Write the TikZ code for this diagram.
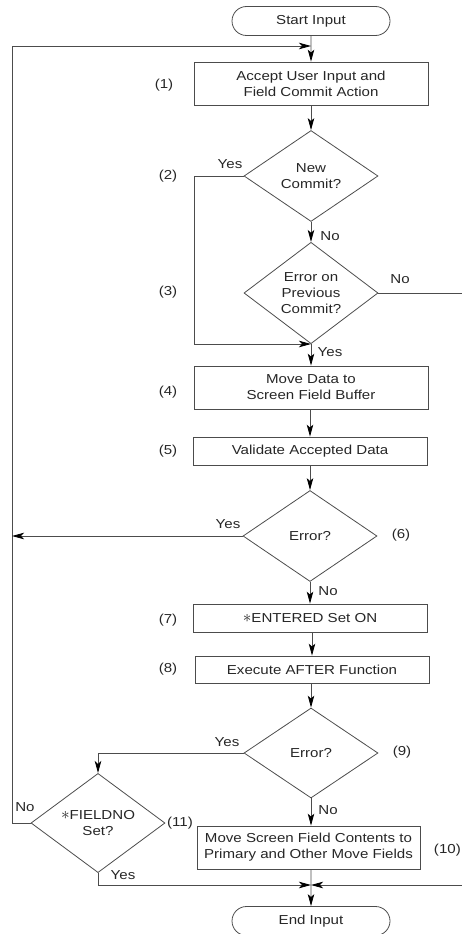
\documentclass[tikz,border=0pt]{standalone}
\usepackage{fontspec}
\setmainfont{Liberation Sans}[FakeStretch=1.16]
\usetikzlibrary{shapes.geometric,shapes.misc,arrows.meta}
\newcommand{\bigast}{{\fontsize{19}{16}\selectfont$\ast$}}
\begin{document}
\begin{tikzpicture}[x=1pt,y=-1pt,
  every node/.style={font=\fontsize{13}{16}\selectfont, text=black!85},
  ln/.style={draw=black!70, line width=0.8pt},
  arr/.style={ln, -{Stealth[length=12pt,width=6.5pt,inset=3pt,color=black]}},
  proc/.style={ln, rectangle, minimum width=234pt, minimum height=43pt, inner sep=0pt, align=center},
  dec/.style={ln, diamond, minimum width=134pt, minimum height=90pt, inner sep=0pt, align=center},
  term/.style={ln, rounded rectangle, minimum width=158pt, minimum height=29pt, inner sep=0pt},
  lbl/.style={inner sep=0pt}]
\useasboundingbox (0,0) rectangle (462,934);
% nodes
\node[term] (start) at (311,21) {Start Input};
\node[proc] (b1) at (311,83.5) {Accept User Input and\\Field Commit Action};
\node[dec, minimum height=91pt] (d2) at (311,176) {New\\Commit?};
\node[dec] (d3) at (311,293) {Error on\\Previous\\Commit?};
\node[proc] (b4) at (311,387.5) {Move Data to\\Screen Field Buffer};
\node[proc, minimum height=28pt] (b5) at (310,451) {Validate Accepted Data};
\node[dec, minimum height=91pt] (d6) at (310,536) {Error?};
\node[proc, minimum height=28pt] (b7) at (310,618) {\bigast ENTERED Set ON};
\node[proc, minimum height=27pt] (b8) at (312,669.5) {Execute AFTER Function};
\node[dec] (d9) at (311,753) {Error?};
\node[dec] (d11) at (98,823) {\bigast FIELDNO\\Set?};
\node[proc, minimum width=223pt] (b10) at (308.5,847.5) {Move Screen Field Contents to\\Primary and Other Move Fields};
\node[term] (end) at (311,921) {End Input};
% junction coordinates
\coordinate (j1) at (311,46);
\coordinate (j2) at (311,344);
\coordinate (j3) at (311,885);
\coordinate (lt) at (12,46);
\coordinate (ll) at (12,823);
\coordinate (l6) at (12,536);
\coordinate (y2) at (194,176);
\coordinate (y2b) at (194,344);
\coordinate (r3) at (462,293);
\coordinate (y9) at (98,753);
\coordinate (y11) at (98,885);
\coordinate (r10) at (462,885);
% step labels
\node[lbl] (n1) at (164,85) {(1)};
\node[lbl] (n2) at (168,176) {(2)};
\node[lbl] (n3) at (168,292) {(3)};
\node[lbl] (n4) at (168,392) {(4)};
\node[lbl] (n5) at (168,451) {(5)};
\node[lbl] (n6) at (401,535) {(6)};
\node[lbl] (n7) at (168,620) {(7)};
\node[lbl] (n8) at (168,669) {(8)};
\node[lbl] (n9) at (402,752) {(9)};
\node[lbl, anchor=east] (n10) at (461,850) {(10)};
\node[lbl] (n11) at (180,823) {(11)};
% branch labels
\node[lbl] (t1) at (230,164) {Yes};
\node[lbl] (t2) at (330,236) {No};
\node[lbl] (t3) at (400,279) {No};
\node[lbl] (t4) at (330,352) {Yes};
\node[lbl] (t5) at (228,524) {Yes};
\node[lbl] (t6) at (328,591) {No};
\node[lbl] (t7) at (227,742) {Yes};
\node[lbl] (t8) at (328,810) {No};
\node[lbl] (t9) at (25,807) {No};
\node[lbl] (t10) at (123,875) {Yes};
% connectors
\draw[arr] (start) -- (b1);
\draw[arr] (b1) -- (d2);
\draw[arr] (d2) -- (d3);
\draw[arr] (d3) -- (b4);
\draw[arr] (b4.south -| b5) -- (b5);
\draw[arr] (b5) -- (d6);
\draw[arr] (d6) -- (b7);
\draw[arr] (b7.south -| b8) -- (b8);
\draw[arr] (b8.south -| d9) -- (d9);
\draw[arr] (d9) -- (b10.north -| d9);
\draw[arr] (b10.south -| end) -- (end);
\draw[arr] (d11.west) -- (ll) -- (lt) -- (j1);
\draw[arr] (d2.west) -- (y2) -- (y2b) -- (j2);
\draw[ln] (d3.east) -- (r3);
\draw[arr] (d6.west) -- (l6);
\draw[arr] (d9.west) -- (y9) -- (d11.north);
\draw[arr] (d11.south) -- (y11) -- (j3);
\draw[arr] (r10) -- (j3);
\end{tikzpicture}
\end{document}
